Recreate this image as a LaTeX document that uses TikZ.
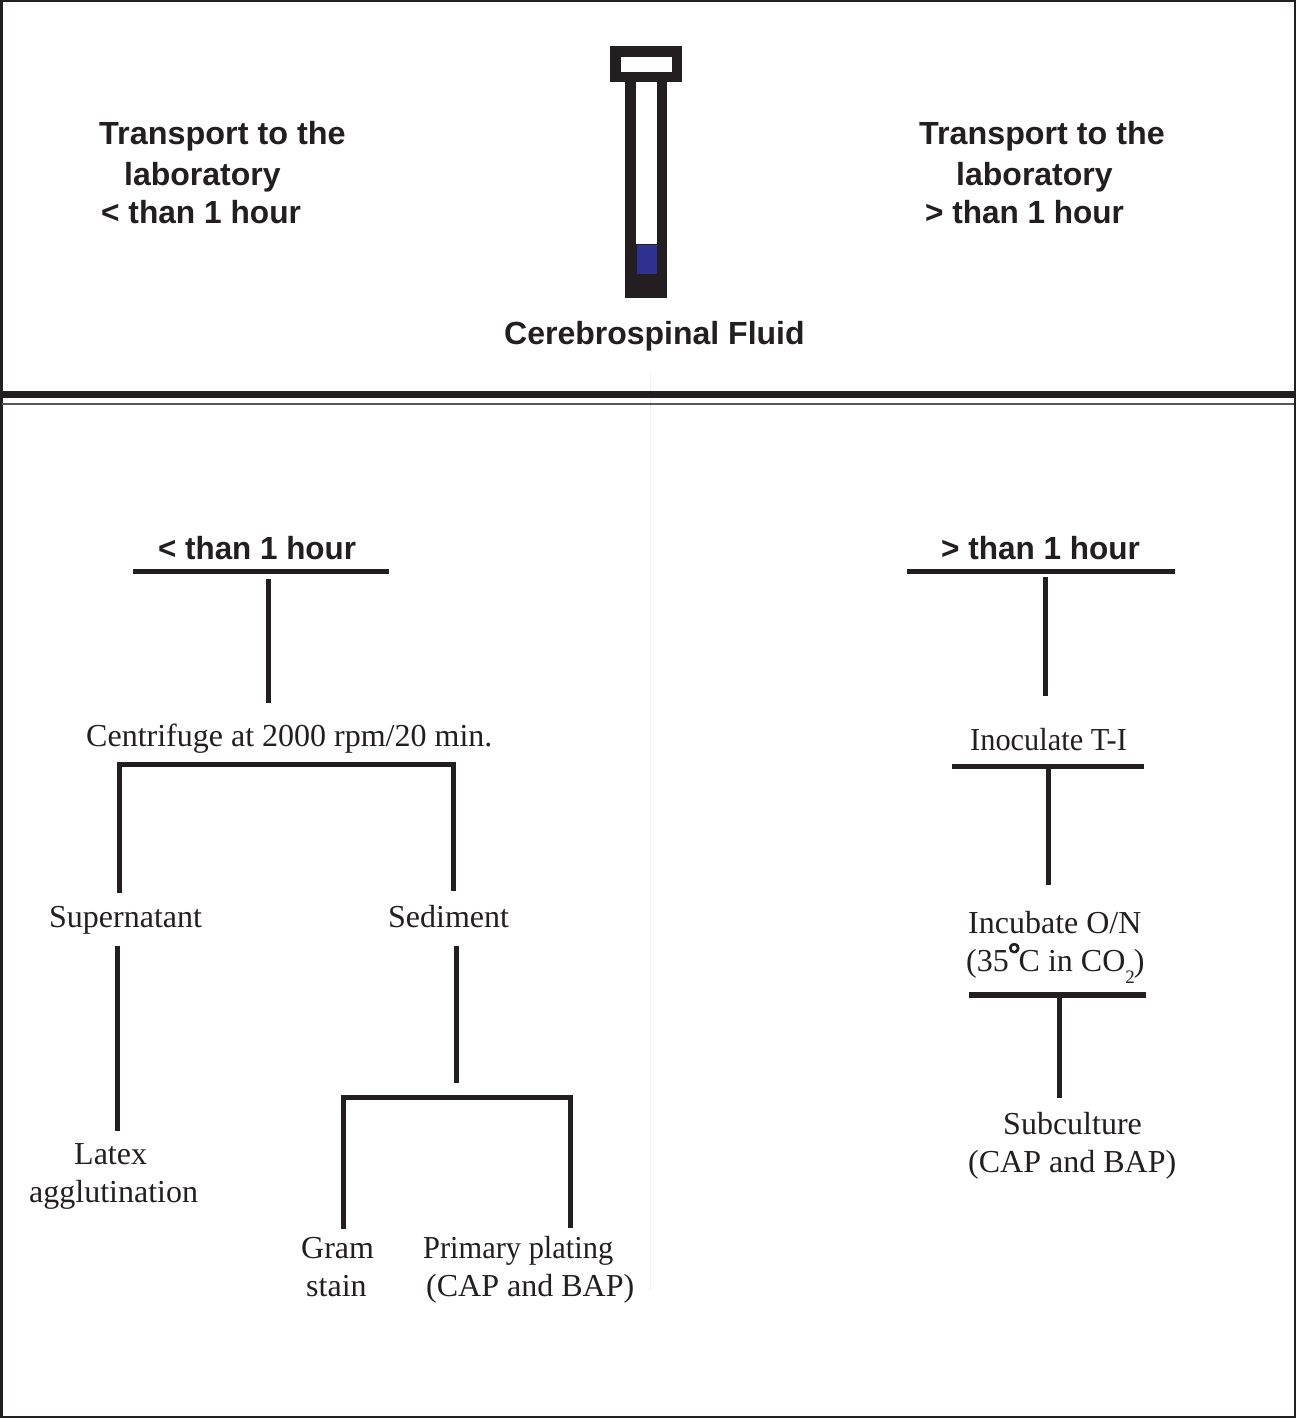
\documentclass[tikz,border=0pt]{standalone}
\usepackage{graphicx}
\usepackage{fontspec}
\setmainfont{Liberation Serif}
\newfontfamily\headfont{Liberation Sans}[BoldFont={Liberation Sans Bold}]
\newfontfamily\degreefont{Liberation Serif Bold}[FakeBold=2.5]
\newcommand{\squeezed}[2]{\scalebox{#1}[1]{#2}}
\definecolor{ink}{HTML}{231F20}
\definecolor{csf}{HTML}{2E3192}
\tikzset{
  frameline/.style={draw=ink,line width=2.5pt},
  heavyrule/.style={draw=ink,line width=7pt},
  thinrule/.style={draw=ink!75,line width=2pt},
  foldline/.style={draw=black!6,line width=1pt},
  flow/.style={draw=ink,line width=5pt},
  flowrule/.style={draw=ink,line width=5pt},
  flowheavy/.style={draw=ink,line width=6.5pt},
  head/.style={anchor=base west,inner sep=0pt,text=ink,font=\headfont\bfseries\fontsize{32}{32}\selectfont},
  step label/.style={anchor=base west,inner sep=0pt,text=ink,font=\fontsize{32}{32}\selectfont},
}
\begin{document}
\begin{tikzpicture}[x=1pt,y=-1pt]
\useasboundingbox (0,0) rectangle (1296,1418);
\fill[white] (0,0) rectangle (1296,1418);
% frame and dividers
\draw[frameline] (1.25,1.25) rectangle (1294.75,1416.75);
\draw[foldline] (650.5,373) -- (650.5,1290);
\draw[heavyrule] (2,394.5) -- (1294,394.5);
\draw[thinrule] (2,403.8) -- (1294,403.8);
% tube
\fill[ink] (610,46) rectangle (682,82);
\fill[white] (621,57) rectangle (671.5,72);
\fill[ink] (625,82) rectangle (667,298);
\fill[white] (635.5,82) rectangle (656.5,244);
\fill[csf] (636.5,245) rectangle (656.5,274);
% top texts
\node[head] (tl1) at (99,144) {\squeezed{1.012}{Transport to the}};
\node[head] (tl2) at (124,185) {laboratory};
\node[head] (tl3) at (101,223) {\squeezed{0.99}{< than 1 hour}};
\node[head] (tr1) at (919,144) {\squeezed{1.008}{Transport to the}};
\node[head] (tr2) at (956,185) {laboratory};
\node[head] (tr3) at (925,223) {\squeezed{0.985}{> than 1 hour}};
\node[head] (csflabel) at (504,344) {Cerebrospinal Fluid};
% left branch
\node[head] (lhead) at (158,559) {\squeezed{0.98}{< than 1 hour}};
\coordinate (lrA) at (133,571); \coordinate (lrB) at (389,571);
\coordinate (lsA) at (268,579); \coordinate (lsB) at (268,703);
\draw[flowrule] (lrA) -- (lrB);
\draw[flow] (lsA) -- (lsB);
\node[step label] (centri) at (86,746) {Centrifuge at 2000 rpm/20 min.};
\coordinate (b1a) at (119,893); \coordinate (b1b) at (119,764);
\coordinate (b1c) at (453,764); \coordinate (b1d) at (453,891);
\draw[flow,line join=miter] (b1a) -- (b1b) -- (b1c) -- (b1d);
\node[step label] (super) at (49,927) {Supernatant};
\node[step label] (sedi) at (388,927) {Sediment};
\coordinate (s1a) at (117.5,946); \coordinate (s1b) at (117.5,1131);
\draw[flow] (s1a) -- (s1b);
\coordinate (s2a) at (456.5,946); \coordinate (s2b) at (456.5,1083);
\draw[flow] (s2a) -- (s2b);
\node[step label] (latex1) at (74,1164) {Latex};
\node[step label] (latex2) at (29,1202) {agglutination};
\coordinate (b2a) at (343,1229); \coordinate (b2b) at (343,1097);
\coordinate (b2c) at (570,1097); \coordinate (b2d) at (570,1228);
\draw[flow,line join=miter] (b2a) -- (b2b) -- (b2c) -- (b2d);
\node[step label] (gram1) at (301,1258) {Gram};
\node[step label] (gram2) at (306,1296) {stain};
\node[step label] (plate1) at (423,1258) {\squeezed{0.95}{Primary plating}};
\node[step label] (plate2) at (426,1296) {(CAP and BAP)};
% right branch
\node[head] (rhead) at (941,559) {\squeezed{0.985}{> than 1 hour}};
\coordinate (rrA) at (907,571); \coordinate (rrB) at (1175,571);
\coordinate (rsA) at (1045.5,577); \coordinate (rsB) at (1045.5,696);
\draw[flowrule] (rrA) -- (rrB);
\draw[flow] (rsA) -- (rsB);
\node[step label] (inoc) at (970,750) {\squeezed{0.95}{Inoculate T-I}};
\coordinate (r2A) at (952,766.5); \coordinate (r2B) at (1144,766.5);
\coordinate (r2C) at (1048,768); \coordinate (r2D) at (1048,885);
\draw[flow] (r2A) -- (r2B);
\draw[flow] (r2C) -- (r2D);
\node[step label] (incu1) at (968,933) {Incubate O/N};
\node[step label] (incu2) at (966,971) {(35\kern-1pt\raisebox{0.2em}{\degreefont °}\kern-2pt C in CO\raisebox{-0.375em}{\fontsize{19}{19}\selectfont 2}\kern-1pt)};
\coordinate (r3A) at (969,995); \coordinate (r3B) at (1146,995);
\coordinate (r3C) at (1059.5,997); \coordinate (r3D) at (1059.5,1098);
\draw[flowheavy] (r3A) -- (r3B);
\draw[flow] (r3C) -- (r3D);
\node[step label] (subc1) at (1003,1134) {Subculture};
\node[step label] (subc2) at (968,1172) {(CAP and BAP)};
\end{tikzpicture}
\end{document}
